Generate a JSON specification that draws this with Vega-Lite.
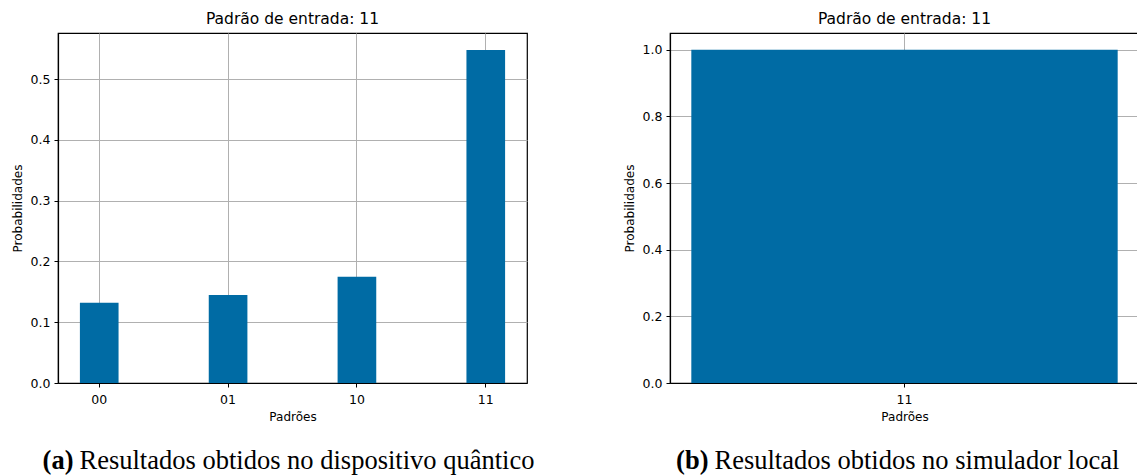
{
  "$schema": "https://vega.github.io/schema/vega-lite/v6.json",
  "background": "white",
  "padding": {"left": 10, "top": 10, "right": 0, "bottom": 0},
  "columns": 2,
  "spacing": {"column": 87, "row": 22},
  "config": {
    "font": "DejaVu Sans",
    "view": {"stroke": "black", "strokeWidth": 1.2},
    "title": {"font": "DejaVu Sans", "fontSize": 15.5, "fontWeight": "normal", "color": "black", "offset": 6},
    "axis": {
      "domainColor": "black", "domainWidth": 1.2, "tickColor": "black", "tickSize": 4, "tickWidth": 1,
      "labelColor": "black", "labelFontSize": 12.5, "labelFont": "DejaVu Sans",
      "titleColor": "black", "titleFontSize": 12, "titleFontWeight": "normal", "titleFont": "DejaVu Sans",
      "gridColor": "#b0b0b0", "gridWidth": 1, "grid": true, "zindex": 1, "labelPadding": 4, "titlePadding": 6
    }
  },
  "concat": [
    {
      "width": 469, "height": 350,
      "title": {"text": "Padrão de entrada: 11"},
      "data": {"values": [
        {"padrao": "00", "prob": 0.132},
        {"padrao": "01", "prob": 0.145},
        {"padrao": "10", "prob": 0.175},
        {"padrao": "11", "prob": 0.548}
      ]},
      "mark": {"type": "bar", "color": "#006ba4"},
      "encoding": {
        "x": {"field": "padrao", "type": "nominal", "sort": null,
          "scale": {"paddingInner": 0.7, "paddingOuter": 0.17},
          "axis": {"title": "Padrões", "labelAngle": 0, "bandPosition": 0.5, "grid": true, "labelPadding": 6}},
        "y": {"field": "prob", "type": "quantitative",
          "scale": {"domain": [0, 0.576], "nice": false},
          "axis": {"title": "Probabilidades", "values": [0, 0.1, 0.2, 0.3, 0.4, 0.5], "format": ".1f"}}
      }
    },
    {
      "width": 469, "height": 350,
      "title": {"text": "Padrão de entrada: 11"},
      "data": {"values": [
        {"padrao": "11", "prob": 1.0}
      ]},
      "mark": {"type": "bar", "color": "#006ba4"},
      "encoding": {
        "x": {"field": "padrao", "type": "nominal", "sort": null,
          "scale": {"paddingInner": 0, "paddingOuter": 0.05},
          "axis": {"title": "Padrões", "labelAngle": 0, "bandPosition": 0.5, "grid": true, "labelPadding": 6}},
        "y": {"field": "prob", "type": "quantitative",
          "scale": {"domain": [0, 1.05], "nice": false},
          "axis": {"title": "Probabilidades", "values": [0, 0.2, 0.4, 0.6, 0.8, 1.0], "format": ".1f"}}
      }
    },
    {
      "width": 469, "height": 30,
      "view": {"stroke": null},
      "data": {"values": [{"tag": "(a)", "caption": "Resultados obtidos no dispositivo quântico"}]},
      "layer": [
        {"mark": {"type": "text", "font": "Liberation Serif", "fontSize": 26.5, "fontWeight": "bold", "align": "right", "baseline": "middle", "dx": -219, "color": "black"},
         "encoding": {"text": {"field": "tag"}}},
        {"mark": {"type": "text", "font": "Liberation Serif", "fontSize": 26.5, "align": "left", "baseline": "middle", "dx": -213, "color": "black"},
         "encoding": {"text": {"field": "caption"}}}
      ]
    },
    {
      "width": 469, "height": 30,
      "view": {"stroke": null},
      "data": {"values": [{"tag": "(b)", "caption": "Resultados obtidos no simulador local"}]},
      "layer": [
        {"mark": {"type": "text", "font": "Liberation Serif", "fontSize": 26.5, "fontWeight": "bold", "align": "right", "baseline": "middle", "dx": -196, "color": "black"},
         "encoding": {"text": {"field": "tag"}}},
        {"mark": {"type": "text", "font": "Liberation Serif", "fontSize": 26.5, "align": "left", "baseline": "middle", "dx": -190, "color": "black"},
         "encoding": {"text": {"field": "caption"}}}
      ]
    }
  ]
}
